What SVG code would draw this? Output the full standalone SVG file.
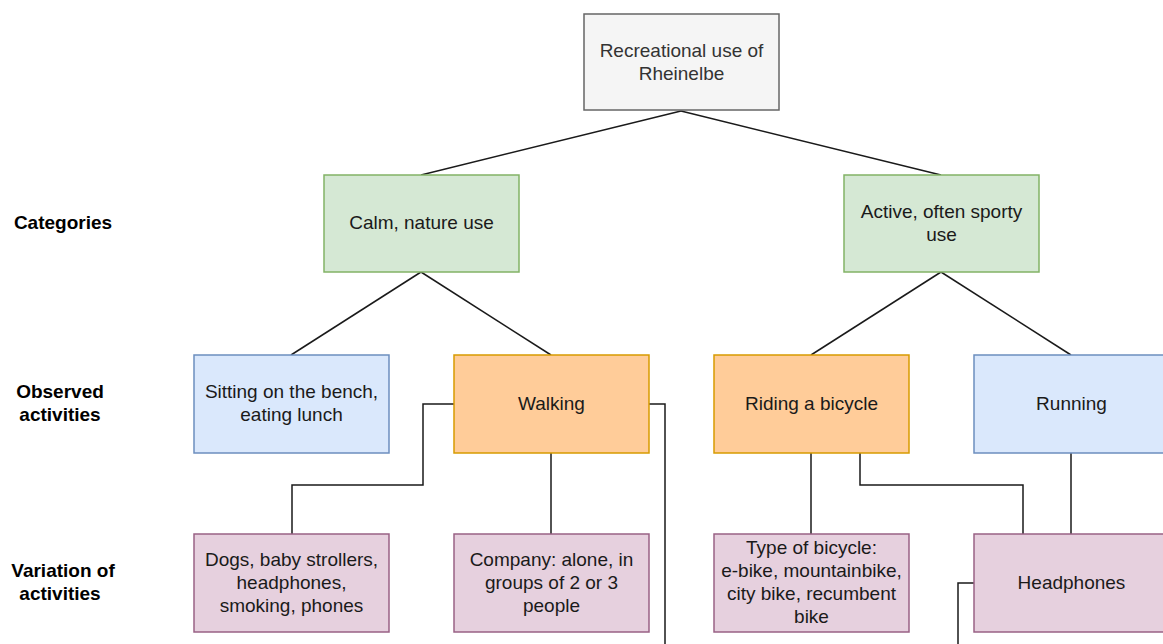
<svg xmlns="http://www.w3.org/2000/svg" width="1163" height="644" viewBox="0 0 1163 644">
  <style>
    text { font-family: "Liberation Sans", Arial, Helvetica, sans-serif; font-size: 19px; fill: #1a1a1a; text-anchor: middle; }
    .row { font-weight: bold; fill: #000; }
    .root rect { fill: #f5f5f5; stroke: #666666; }
    .root text { fill: #333333; }
    .cat rect { fill: #d5e8d4; stroke: #82b366; }
    .calm rect { fill: #dae8fc; stroke: #6c8ebf; }
    .act rect { fill: #ffcc99; stroke: #d79b00; }
    .var rect { fill: #e6d0de; stroke: #996185; }
    rect { stroke-width: 1.5; }
    #connectors path { fill: none; stroke: #1a1a1a; stroke-width: 1.5; }
  </style>

  <!-- row labels -->
  <g id="label-categories"><text class="row" x="63" y="229">Categories</text></g>
  <g id="label-observed"><text class="row" x="60" y="398">Observed</text><text class="row" x="60" y="421">activities</text></g>
  <g id="label-variation"><text class="row" x="63" y="577">Variation of</text><text class="row" x="60" y="600">activities</text></g>

  <!-- connectors -->
  <g id="connectors">
    <path d="M681 111 L421 175"/>
    <path d="M681 111 L941 175"/>
    <path d="M421 272 L291 355"/>
    <path d="M421 272 L551 355"/>
    <path d="M941 272 L811 355"/>
    <path d="M941 272 L1071 355"/>
    <path d="M454 404 H423 V485 H292 V534"/>
    <path d="M551 453 V534"/>
    <path d="M649 404 H665 V644"/>
    <path d="M811 453 V534"/>
    <path d="M860 453 V485 H1023 V534"/>
    <path d="M1071 453 V534"/>
    <path d="M974 583 H958 V644"/>
  </g>

  <g id="root" class="root">
    <rect x="584" y="14" width="195" height="96"/>
    <text x="681.5" y="57">Recreational use of</text>
    <text x="681.5" y="80">Rheinelbe</text>
  </g>

  <g id="calm-nature" class="cat">
    <rect x="324" y="175" width="195" height="97"/>
    <text x="421.5" y="229">Calm, nature use</text>
  </g>
  <g id="active-sporty" class="cat">
    <rect x="844" y="175" width="195" height="97"/>
    <text x="941.5" y="218">Active, often sporty</text>
    <text x="941.5" y="241">use</text>
  </g>

  <g id="sitting" class="calm">
    <rect x="194" y="355" width="195" height="98"/>
    <text x="291.5" y="398">Sitting on the bench,</text>
    <text x="291.5" y="421">eating lunch</text>
  </g>
  <g id="walking" class="act">
    <rect x="454" y="355" width="195" height="98"/>
    <text x="551.5" y="410">Walking</text>
  </g>
  <g id="riding" class="act">
    <rect x="714" y="355" width="195" height="98"/>
    <text x="811.5" y="410">Riding a bicycle</text>
  </g>
  <g id="running" class="calm">
    <rect x="974" y="355" width="195" height="98"/>
    <text x="1071.5" y="410">Running</text>
  </g>

  <g id="dogs" class="var">
    <rect x="194" y="534" width="195" height="98"/>
    <text x="291.5" y="566">Dogs, baby strollers,</text>
    <text x="291.5" y="589">headphones,</text>
    <text x="291.5" y="612">smoking, phones</text>
  </g>
  <g id="company" class="var">
    <rect x="454" y="534" width="195" height="98"/>
    <text x="551.5" y="566">Company: alone, in</text>
    <text x="551.5" y="589">groups of 2 or 3</text>
    <text x="551.5" y="612">people</text>
  </g>
  <g id="bicycle-type" class="var">
    <rect x="714" y="534" width="195" height="98"/>
    <text x="811.5" y="554">Type of bicycle:</text>
    <text x="811.5" y="577">e-bike, mountainbike,</text>
    <text x="811.5" y="600">city bike, recumbent</text>
    <text x="811.5" y="623">bike</text>
  </g>
  <g id="headphones" class="var">
    <rect x="974" y="534" width="195" height="98"/>
    <text x="1071.5" y="589">Headphones</text>
  </g>
</svg>
